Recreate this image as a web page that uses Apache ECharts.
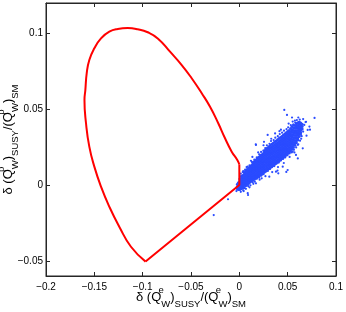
<!DOCTYPE html>
<html><head><meta charset="utf-8">
<script src="https://cdn.jsdelivr.net/npm/echarts@6/dist/echarts.min.js"></script>
<style>html,body{margin:0;padding:0;background:#fff}#c{width:346px;height:312px}</style>
</head><body><div id="c"></div>
<script>
const xTicks = [-0.2, -0.15, -0.1, -0.05, 0, 0.05, 0.1];
const yTicks = [-0.05, 0, 0.05, 0.1];

// red boundary: curved part (from top of the vertical segment, round over the top, to the lower tip)
const boundaryArc = [[0,0.0135],[-0.0021,0.0165],[-0.0079,0.022],[-0.0148,0.0308],[-0.0218,0.0407],[-0.0303,0.0516],[-0.0389,0.0605],[-0.0493,0.0704],[-0.0596,0.0791],[-0.0717,0.0879],[-0.0841,0.0965],[-0.0948,0.1007],[-0.1051,0.1027],[-0.1155,0.1035],[-0.1258,0.1029],[-0.1345,0.1011],[-0.1431,0.0967],[-0.15,0.0901],[-0.1552,0.0824],[-0.1579,0.0736],[-0.1593,0.0626],[-0.1602,0.056],[-0.1586,0.0407],[-0.1552,0.0253],[-0.15,0.0121],[-0.1431,-0.0011],[-0.1345,-0.0143],[-0.1242,-0.0275],[-0.1121,-0.0407],[-0.097,-0.0505]];
// red boundary: straight part (lower tip -> origin -> up the vertical)
const boundaryLines = [[-0.097,-0.0505],[0,0],[0,0.0135]];

// blue cloud, dense core: [x, [y values at that x]]
const cloudColumns = [
 [-0.002,[-0.0025,-0.001,0.0005]],
 [-0.001,[-0.003,-0.0015,0.0,0.0015]],
 [0.0005,[-0.003,-0.0018,-0.0005,0.001,0.0025,0.004]],
 [0.002,[-0.0025,-0.001,0.0003,0.0017,0.003,0.0045,0.0058]],
 [0.0035,[-0.002,-0.0006,0.0008,0.0022,0.0036,0.005,0.0063]],
 [0.005,[-0.0018,-0.0002,0.0012,0.0026,0.004,0.0055,0.007,0.0082]],
 [0.0065,[-0.0005,0.001,0.0024,0.0038,0.0052,0.0066,0.008,0.0094]],
 [0.008,[0.0004,0.0018,0.0032,0.0046,0.006,0.0074,0.0088,0.0102]],
 [0.0095,[0.001,0.0025,0.004,0.0054,0.0068,0.0082,0.0096,0.011]],
 [0.011,[0.0018,0.0033,0.0048,0.0062,0.0076,0.009,0.0105,0.012]],
 [0.0125,[0.0026,0.004,0.0055,0.007,0.0085,0.0098,0.0112,0.0128]],
 [0.014,[0.0032,0.0047,0.0062,0.0077,0.0092,0.0106,0.012,0.0135,0.0145]],
 [0.0155,[0.0038,0.0053,0.0068,0.0083,0.0098,0.0112,0.0126,0.014,0.0155]],
 [0.017,[0.0045,0.006,0.0075,0.009,0.0105,0.012,0.0134,0.0148,0.0164]],
 [0.0185,[0.0052,0.0067,0.0082,0.0097,0.0112,0.0127,0.0142,0.0157,0.0174]],
 [0.02,[0.0058,0.0074,0.0089,0.0104,0.012,0.0135,0.015,0.0166,0.0183]],
 [0.0215,[0.0064,0.008,0.0096,0.0111,0.0127,0.0143,0.0158,0.0174,0.019]],
 [0.023,[0.0071,0.0087,0.0103,0.0119,0.0135,0.015,0.0166,0.0182,0.0198]],
 [0.0245,[0.0078,0.0094,0.011,0.0126,0.0142,0.0158,0.0174,0.019,0.0206]],
 [0.026,[0.0086,0.0102,0.0118,0.0134,0.015,0.0166,0.0182,0.0198,0.0214,0.0226]],
 [0.0275,[0.0093,0.0109,0.0125,0.0141,0.0157,0.0173,0.0189,0.0205,0.0221,0.0235]],
 [0.029,[0.01,0.0116,0.0132,0.0148,0.0164,0.018,0.0196,0.0212,0.0228,0.0244]],
 [0.0305,[0.0107,0.0123,0.0139,0.0155,0.0171,0.0187,0.0203,0.0219,0.0235,0.0252]],
 [0.032,[0.0114,0.013,0.0146,0.0162,0.0178,0.0194,0.021,0.0226,0.0242,0.026]],
 [0.0335,[0.0122,0.0138,0.0154,0.017,0.0186,0.0202,0.0218,0.0234,0.025,0.0268]],
 [0.035,[0.0129,0.0145,0.0161,0.0177,0.0193,0.0209,0.0225,0.0241,0.0257,0.0276]],
 [0.0365,[0.0136,0.0152,0.0168,0.0184,0.02,0.0216,0.0232,0.0248,0.0264,0.0284]],
 [0.038,[0.0144,0.016,0.0176,0.0192,0.0208,0.0224,0.024,0.0256,0.0272,0.029]],
 [0.0395,[0.0151,0.0167,0.0183,0.0199,0.0215,0.0231,0.0247,0.0263,0.0279,0.0298]],
 [0.041,[0.0158,0.0174,0.019,0.0206,0.0222,0.0238,0.0254,0.027,0.0286,0.0306]],
 [0.0425,[0.0166,0.0182,0.0198,0.0214,0.023,0.0246,0.0262,0.0278,0.0294,0.0314]],
 [0.044,[0.0174,0.019,0.0206,0.0222,0.0238,0.0254,0.027,0.0286,0.0302,0.032]],
 [0.0455,[0.0182,0.0198,0.0214,0.023,0.0246,0.0262,0.0278,0.0294,0.031,0.0328]],
 [0.047,[0.019,0.0206,0.0222,0.0238,0.0254,0.027,0.0286,0.0302,0.0318,0.0336]],
 [0.0485,[0.0198,0.0214,0.023,0.0246,0.0262,0.0278,0.0294,0.031,0.0326,0.0344]],
 [0.05,[0.0207,0.0223,0.0239,0.0255,0.0271,0.0287,0.0303,0.0319,0.0335,0.0352]],
 [0.0515,[0.0216,0.0232,0.0248,0.0264,0.028,0.0296,0.0312,0.0328,0.0344,0.036]],
 [0.053,[0.0225,0.0241,0.0257,0.0273,0.0289,0.0305,0.0321,0.0337,0.0353,0.0372]],
 [0.0545,[0.0236,0.0252,0.0268,0.0284,0.03,0.0316,0.0332,0.0348,0.0364,0.0385]],
 [0.056,[0.0248,0.0264,0.028,0.0296,0.0312,0.0328,0.0344,0.036,0.0378,0.0398]],
 [0.0575,[0.0262,0.0278,0.0294,0.031,0.0326,0.0342,0.0358,0.0374,0.0392]],
 [0.059,[0.0278,0.0294,0.031,0.0326,0.0342,0.0358,0.0374,0.039,0.0405]],
 [0.0605,[0.0296,0.0312,0.0328,0.0344,0.036,0.0376,0.0392,0.041]],
 [0.062,[0.032,0.0336,0.0352,0.0368,0.0384,0.04,0.0415]],
 [0.0635,[0.0345,0.036,0.0376,0.0392,0.0408]],
 [0.065,[0.037,0.0386,0.04]]
];

// blue cloud, diffuse points along the band's edges
const cloudEdge = [[0.0015,0.0075],[0.004,0.0092],[0.006,0.0102],[0.0085,0.0121],[0.0105,0.013],[0.013,0.0152],[0.0155,0.0168],[0.018,0.0183],[0.0205,0.0202],[0.0225,0.0218],[0.0248,0.0226],[0.0268,0.0244],[0.0285,0.0262],[0.0312,0.0272],[0.0328,0.029],[0.0355,0.0296],[0.0372,0.0312],[0.0398,0.0322],[0.0418,0.0336],[0.0442,0.0345],[0.0462,0.0358],[0.0488,0.0368],[0.0505,0.038],[0.0532,0.0395],[0.0552,0.0418],[0.0578,0.0412],[0.0595,0.0428],[0.0625,0.0432],
 [0.004,-0.0035],[0.0068,-0.0025],[0.0092,-0.0008],[0.0115,-0.0002],[0.0138,0.0018],[0.016,0.0022],[0.0182,0.0042],[0.0205,0.0048],[0.0228,0.0062],[0.025,0.0071],[0.0272,0.0089],[0.0295,0.0093],[0.0318,0.0106],[0.034,0.0118],[0.0362,0.0125],[0.0385,0.0142],[0.0408,0.0148],[0.043,0.0162],[0.0452,0.0172],[0.0475,0.0182],[0.0498,0.0196],[0.052,0.0208],[0.0542,0.0215],[0.0565,0.0232],[0.0588,0.0248],[0.061,0.0268],[0.0628,0.0292],[0.0645,0.0322],[0.066,0.0352]];

// blue cloud, scattered outliers
const cloudOutliers = [[0.0465,0.0495],[0.0493,0.0462],[0.0778,0.0442],[0.069,0.0417],[0.0672,0.0396],[0.0707,0.0363],[0.0731,0.0365],[0.0638,0.033],[0.0656,0.0242],[0.0586,0.0198],[0.05,0.0099],[0.0449,0.0121],[0.0403,0.0077],[0.0231,0.0044],[0.0172,0.0264],[0.0293,0.033],[0.0224,0.0198],[0.0087,-0.0054],[0.0172,0.0011],[0.031,0.0055],[0.0552,0.022],[0.0379,0.0088],[0.0486,0.0086],[-0.0117,-0.0094],[-0.0265,-0.0198],[0.009,-0.0066],[0.017,0.0268],
 [0.0035,0.0085],[0.0075,0.0118],[0.012,0.016],[0.0195,0.0215],[0.025,0.0262],[0.033,0.0305],[0.037,0.034],[0.043,0.0365],[0.051,0.0405],[0.0575,0.0425],[0.061,0.0445],[0.066,0.0435],[0.0685,0.0415],[0.064,0.0305],[0.0605,0.0265],[0.057,0.0215],[0.052,0.0185],[0.046,0.0145],[0.04,0.0118],[0.034,0.0085],[0.027,0.0058],[0.021,0.0035],[0.0145,0.0008],[0.0105,-0.0015],[0.0045,-0.004],[0.0015,-0.0045],[-0.003,-0.004],[0.0695,0.0325],[0.0605,0.0175],[0.0415,0.0355],[0.0255,0.0285],[0.0135,0.0185],[0.0725,0.0385],[0.0545,0.0445],[0.0395,0.0095]];

const cloudCore = [];
cloudColumns.forEach(c => c[1].forEach(y => cloudCore.push([c[0], y])));

const FONT = 'Liberation Sans';
const minus = v => String(Math.round(v * 1000) / 1000).replace('-', '\u2212');
const rich = {
  b: {fontSize: 13, fontFamily: FONT, color: '#000', lineHeight: 24, verticalAlign: 'middle'},
  sp: {fontSize: 9.5, fontFamily: FONT, color: '#000', lineHeight: 12, verticalAlign: 'top', width: 0},
  sb: {fontSize: 9.5, fontFamily: FONT, color: '#000', lineHeight: 12, verticalAlign: 'bottom'}
};
const axisName = s => '{b|\u03b4 (Q}{sp|' + s + '}{sb|W}{b|)}{sb|SUSY}{b|/(Q}{sp|' + s + '}{sb|W}{b|)}{sb|SM}';

const lineC = '#262626';
const chart = echarts.init(document.getElementById('c'), null, {renderer: 'canvas'});
chart.setOption({
  animation: false,
  backgroundColor: '#fff',
  grid: {left: 46, right: 10, top: 3, bottom: 36, containLabel: false, outerBoundsMode: 'none',
         show: true, borderColor: lineC, borderWidth: 1, backgroundColor: 'transparent'},
  xAxis: [{
    type: 'value', min: -0.2, max: 0.1, interval: 0.05, position: 'bottom',
    name: axisName('e'), nameLocation: 'middle', nameGap: 9, nameMoveOverlap: false,
    nameTextStyle: {rich: rich},
    axisLine: {show: true, onZero: false, lineStyle: {color: lineC}},
    axisTick: {show: true, inside: true, length: 4, lineStyle: {color: lineC}, customValues: xTicks},
    axisLabel: {show: true, margin: 6, fontSize: 10, fontFamily: FONT, color: '#000', formatter: minus, customValues: xTicks},
    splitLine: {show: false}
  }, {
    type: 'value', min: -0.2, max: 0.1, interval: 0.05, position: 'top',
    axisLine: {show: true, onZero: false, lineStyle: {color: lineC}},
    axisTick: {show: true, inside: true, length: 4, lineStyle: {color: lineC}, customValues: xTicks},
    axisLabel: {show: false}, splitLine: {show: false}
  }],
  yAxis: [{
    type: 'value', min: -0.06, max: 0.12, position: 'left',
    name: axisName('p'), nameLocation: 'middle', nameGap: 26, nameRotate: 90, nameMoveOverlap: false,
    nameTextStyle: {rich: rich},
    axisLine: {show: true, onZero: false, lineStyle: {color: lineC}},
    axisTick: {show: true, inside: true, length: 4, lineStyle: {color: lineC}, customValues: yTicks},
    axisLabel: {show: true, margin: 3, fontSize: 10, fontFamily: FONT, color: '#000', formatter: minus, customValues: yTicks},
    splitLine: {show: false}
  }, {
    type: 'value', min: -0.06, max: 0.12, position: 'right',
    axisLine: {show: true, onZero: false, lineStyle: {color: lineC}},
    axisTick: {show: true, inside: true, length: 4, lineStyle: {color: lineC}, customValues: yTicks},
    axisLabel: {show: false}, splitLine: {show: false}
  }],
  series: [
    {type: 'scatter', data: cloudCore, symbol: 'circle', symbolSize: 3, itemStyle: {color: '#2a4bff', opacity: 1}, silent: true},
    {type: 'scatter', data: cloudEdge, symbol: 'circle', symbolSize: 2.2, itemStyle: {color: '#2a4bff', opacity: 1}, silent: true},
    {type: 'scatter', data: cloudOutliers, symbol: 'circle', symbolSize: 2.2, itemStyle: {color: '#2a4bff', opacity: 1}, silent: true},
    {type: 'line', data: boundaryArc, smooth: 0.5, symbol: 'none', lineStyle: {color: '#ff0000', width: 2}, silent: true},
    {type: 'line', data: boundaryLines, smooth: false, symbol: 'none', lineStyle: {color: '#ff0000', width: 2}, silent: true}
  ]
});
</script>
</body></html>
